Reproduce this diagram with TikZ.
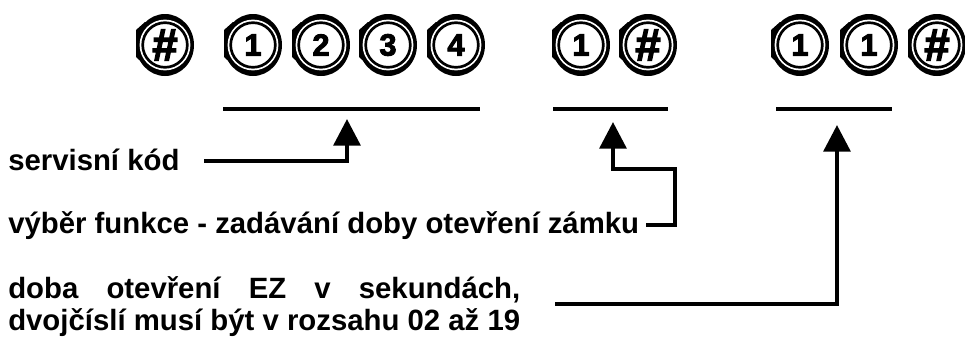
\documentclass[tikz,border=0pt]{standalone}
\usepackage{fontspec}
\setmainfont{Liberation Sans}
\newfontfamily\keyfont[FakeBold=3]{Liberation Sans Bold}
\usetikzlibrary{arrows.meta}
\tikzset{
  x=0.75pt,y=-0.75pt,
  lab/.style={inner sep=0pt,font=\bfseries\fontsize{22pt}{24pt}\selectfont,align=left},
  keycap/.style={circle,draw=black,fill=white,line width=2pt,minimum size=33.5pt,inner sep=0pt,
    preaction={draw=white,line width=4.6pt},
    font=\keyfont\fontsize{23pt}{23pt}\selectfont},
  hashcap/.style={keycap,font=\keyfont\fontsize{34pt}{34pt}\selectfont},
  slot/.style={line width=3pt},
  link/.style={line width=3.2pt,-{Triangle[length=20pt,width=20pt]}},
}
\newcommand{\keyback}[1]{\fill[black] (#1,45) ellipse [x radius=21.75pt,y radius=23.25pt];
  \fill[black] (#1-29,30) -- (#1-20,22) -- (#1,22) -- (#1,68) -- (#1-17,68) -- (#1-29,57) -- cycle;}
\begin{document}
\begin{tikzpicture}
\useasboundingbox (0,0) rectangle (965,336);
\foreach \c in {165,253,321,388,456,581,648,800,869,937}{\keyback{\c}}
\node[hashcap] (k0) at (165,45) {\#};
\node[keycap] (k1) at (253,45) {1};
\node[keycap] (k2) at (321,45) {2};
\node[keycap] (k3) at (388,45) {3};
\node[keycap] (k4) at (456,45) {4};
\node[keycap] (k5) at (581,45) {1};
\node[hashcap] (k6) at (648,45) {\#};
\node[keycap] (k7) at (800,45) {1};
\node[keycap] (k8) at (869,45) {1};
\node[hashcap] (k9) at (937,45) {\#};

\coordinate (s1a) at (223,109); \coordinate (s1b) at (480,109);
\coordinate (s2a) at (553,109); \coordinate (s2b) at (668,109);
\coordinate (s3a) at (776,109); \coordinate (s3b) at (892,109);
\draw[slot] (s1a) -- (s1b);
\draw[slot] (s2a) -- (s2b);
\draw[slot] (s3a) -- (s3b);

\node[lab,anchor=base west] (t1) at (8,170) {servisní kód};
\node[lab,anchor=base west] (t2) at (8,233) {výběr funkce - zadávání doby otevření zámku};
\node[lab,anchor=west] (t3) at (8,306.5) {\makebox[384pt][s]{doba otevření EZ v sekundách,}\\dvojčíslí musí být v rozsahu 02 až 19};

\coordinate (e1) at (204,161); \coordinate (h1) at (347,119);
\coordinate (e2) at (646,225); \coordinate (h2) at (613,122);
\coordinate (e3) at (555,304); \coordinate (h3) at (837,125);
\draw[link] (e1) -| (h1);
\draw[link] (e2) -- (675,225) -- (675,169) -| (h2);
\draw[link] (e3) -| (h3);
\end{tikzpicture}
\end{document}
